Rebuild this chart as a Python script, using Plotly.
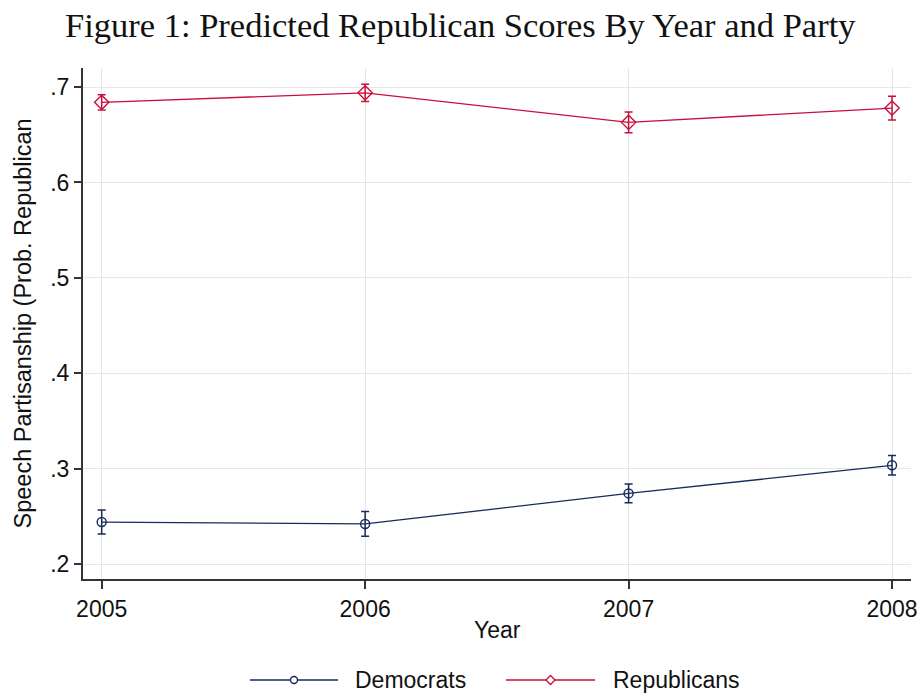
import plotly.graph_objects as go

years = [2005, 2006, 2007, 2008]
dem_score = [0.244, 0.242, 0.274, 0.3035]
dem_ci = [0.0126, 0.013, 0.0098, 0.0103]
rep_score = [0.684, 0.694, 0.663, 0.678]
rep_ci = [0.008, 0.009, 0.011, 0.0125]
y_ticks = [0.2, 0.3, 0.4, 0.5, 0.6, 0.7]
y_tick_text = [".2", ".3", ".4", ".5", ".6", ".7"]

DEM_COLOR = "#1a2a5c"
REP_COLOR = "#c8103c"
SANS = "Liberation Sans, Arial, sans-serif"

W, H = 920, 694
ML, MR, MT, MB = 83, 9, 68, 115
PW, PH = W - ML - MR, H - MT - MB


def px_x(px):
    return (px - ML) / PW


def px_y(py):
    return (H - MB - py) / PH


fig = go.Figure()
fig.add_trace(go.Scatter(
    x=years, y=dem_score, mode="lines+markers", name="Democrats",
    line=dict(color=DEM_COLOR, width=1.3),
    marker=dict(symbol="circle-open", size=9, color=DEM_COLOR, line=dict(width=1.4)),
    error_y=dict(type="data", array=dem_ci, color=DEM_COLOR, thickness=1.5, width=4),
    showlegend=False,
))
fig.add_trace(go.Scatter(
    x=years, y=rep_score, mode="lines+markers", name="Republicans",
    line=dict(color=REP_COLOR, width=1.3),
    marker=dict(symbol="diamond-open", size=11, color=REP_COLOR, line=dict(width=1.4)),
    error_y=dict(type="data", array=rep_ci, color=REP_COLOR, thickness=1.5, width=4),
    showlegend=False,
))

# Legend drawn by hand so the sample lines are as long as in the figure style
shapes = []
annotations = []
legend_items = [
    ("Democrats", DEM_COLOR, "circle", 250, 338, 353),
    ("Republicans", REP_COLOR, "diamond", 506, 595, 611),
]
ly = 680
for label, color, sym, x0, x1, tx in legend_items:
    shapes.append(dict(type="line", xref="paper", yref="paper",
                       x0=px_x(x0), x1=px_x(x1), y0=px_y(ly), y1=px_y(ly),
                       line=dict(color=color, width=1.3)))
    cx = (x0 + x1) / 2
    if sym == "circle":
        r = 3.5
        shapes.append(dict(type="circle", xref="paper", yref="paper",
                           x0=px_x(cx - r), x1=px_x(cx + r),
                           y0=px_y(ly + r), y1=px_y(ly - r),
                           line=dict(color=color, width=1.4), fillcolor="white"))
    else:
        r = 4.5
        path = "M {} {} L {} {} L {} {} L {} {} Z".format(
            px_x(cx - r), px_y(ly), px_x(cx), px_y(ly - r),
            px_x(cx + r), px_y(ly), px_x(cx), px_y(ly + r))
        shapes.append(dict(type="path", xref="paper", yref="paper", path=path,
                           line=dict(color=color, width=1.4), fillcolor="white"))
    annotations.append(dict(x=px_x(tx), y=px_y(ly), xref="paper", yref="paper",
                            text=label, showarrow=False, xanchor="left", yanchor="middle",
                            font=dict(family=SANS, size=23, color="#111")))

annotations.append(dict(x=0.5, y=px_y(630), xref="paper", yref="paper", text="Year",
                        showarrow=False, xanchor="center", yanchor="middle",
                        font=dict(family=SANS, size=23, color="#111")))
annotations.append(dict(x=px_x(22), y=0.5, xref="paper", yref="paper",
                        text="Speech Partisanship (Prob. Republican", textangle=-90,
                        showarrow=False, xanchor="center", yanchor="middle",
                        font=dict(family=SANS, size=23.5, color="#111")))
annotations.append(dict(x=px_x(460), y=px_y(25), xref="paper", yref="paper",
                        text="Figure 1: Predicted Republican Scores By Year and Party",
                        showarrow=False, xanchor="center", yanchor="middle",
                        font=dict(family="Liberation Serif, DejaVu Serif, serif", size=34.5,
                                  color="#111")))

fig.update_layout(
    width=W, height=H, autosize=False,
    margin=dict(l=ML, r=MR, t=MT, b=MB, pad=0, autoexpand=False),
    paper_bgcolor="white", plot_bgcolor="white",
    shapes=shapes, annotations=annotations,
    xaxis=dict(range=[2004.929, 2008.072], tickvals=years, ticktext=[str(y) for y in years],
               showgrid=True, gridcolor="#e6e6e6", gridwidth=1.3, zeroline=False,
               showline=True, linecolor="#333", linewidth=2, automargin=False,
               ticks="outside", ticklen=8, tickwidth=1.5, tickcolor="#333",
               tickfont=dict(family=SANS, size=23, color="#111")),
    yaxis=dict(range=[0.1843, 0.72], tickvals=y_ticks, ticktext=y_tick_text,
               showgrid=True, gridcolor="#e6e6e6", gridwidth=1.3, zeroline=False,
               showline=True, linecolor="#333", linewidth=2, automargin=False,
               ticks="outside", ticklen=7, tickwidth=1.5, tickcolor="#333",
               tickfont=dict(family=SANS, size=23, color="#111")),
)

fig.write_html("out.html")
